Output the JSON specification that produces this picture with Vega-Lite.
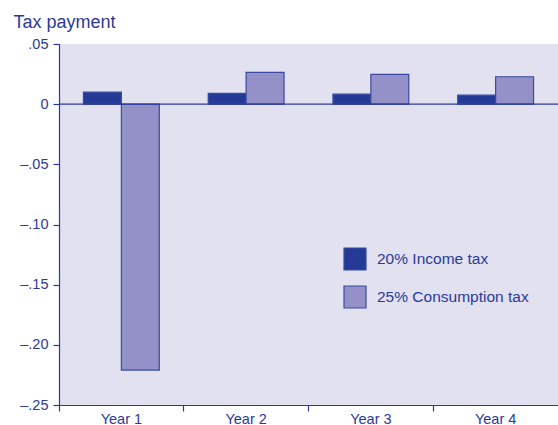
{
  "$schema": "https://vega.github.io/schema/vega-lite/v6.json",
  "width": 499,
  "height": 361,
  "autosize": "none",
  "padding": {"left": 59, "top": 44, "right": 0, "bottom": 20},
  "background": "white",
  "config": {
    "view": {"fill": "#e1e1f0", "stroke": null},
    "font": "Liberation Sans",
    "axis": {"labelColor": "#2b3a98", "titleColor": "#2b3a98", "domainColor": "#2b3a98", "tickColor": "#2b3a98", "grid": false, "labelFontSize": 14.5, "domainWidth": 1.2, "tickWidth": 1.2}
  },
  "data": {
    "values": [
      {"year": "Year 1", "tax": "20% Income tax", "value": 0.010},
      {"year": "Year 1", "tax": "25% Consumption tax", "value": -0.221},
      {"year": "Year 2", "tax": "20% Income tax", "value": 0.009},
      {"year": "Year 2", "tax": "25% Consumption tax", "value": 0.0265},
      {"year": "Year 3", "tax": "20% Income tax", "value": 0.0083},
      {"year": "Year 3", "tax": "25% Consumption tax", "value": 0.0248},
      {"year": "Year 4", "tax": "20% Income tax", "value": 0.0075},
      {"year": "Year 4", "tax": "25% Consumption tax", "value": 0.0228}
    ]
  },
  "layer": [
    {
      "mark": {"type": "bar", "stroke": "#3a4aa2", "strokeWidth": 1.2},
      "encoding": {
        "x": {"field": "year", "type": "nominal", "scale": {"paddingInner": 0, "paddingOuter": 0},
          "axis": {"title": null, "labelAngle": 0, "bandPosition": 0, "tickSize": 6, "labelPadding": 1, "labelFontSize": 14.5}},
        "xOffset": {"field": "tax", "type": "nominal", "scale": {"paddingInner": 0, "paddingOuter": 0.645}},
        "y": {"field": "value", "type": "quantitative", "scale": {"domain": [-0.25, 0.05], "nice": false, "zero": false},
          "axis": {"values": [-0.25, -0.2, -0.15, -0.1, -0.05, 0, 0.05], "tickSize": 6, "labelPadding": 5,
            "labelExpr": "datum.value == 0 ? '0' : (datum.value < 0 ? '\u2013' : '') + replace(format(abs(datum.value), '.2f'), '0.', '.')",
            "title": "Tax payment", "titleAngle": 0, "titleAlign": "left", "titleBaseline": "alphabetic", "titleX": -46, "titleY": -17, "titleFontSize": 18, "titleFontWeight": "normal"}},
        "color": {"field": "tax", "type": "nominal",
          "scale": {"domain": ["20% Income tax", "25% Consumption tax"], "range": ["#253996", "#9490c8"]},
          "legend": {"title": null, "orient": "none", "legendX": 284, "legendY": 203, "symbolType": "square", "symbolSize": 484, "symbolStrokeColor": "#3a4aa2", "symbolStrokeWidth": 1.2, "labelFontSize": 15.5, "labelColor": "#2b3a98", "labelOffset": 10, "rowPadding": 10}}
      }
    },
    {
      "mark": {"type": "rule", "color": "#2b3a98", "strokeWidth": 1.2},
      "data": {"values": [{"y": 0}]},
      "encoding": {"y": {"field": "y", "type": "quantitative"}}
    }
  ]
}
